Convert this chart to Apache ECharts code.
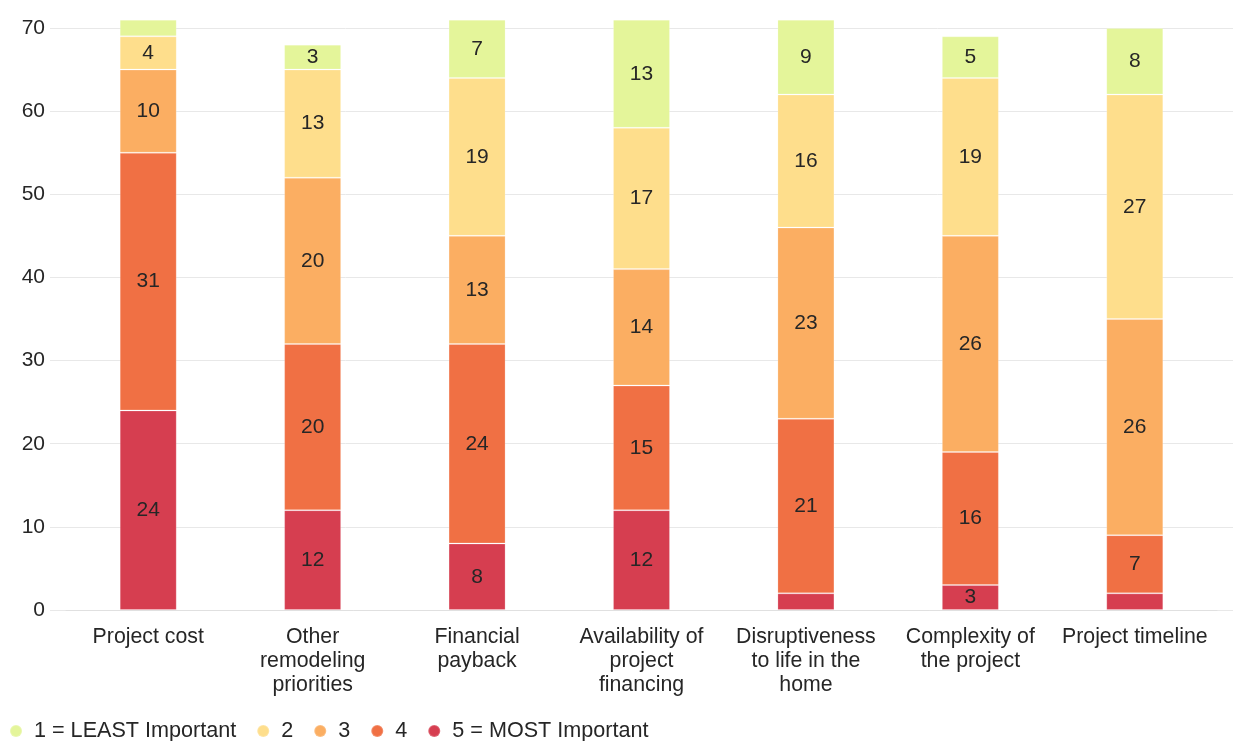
<!DOCTYPE html>
<html>
<head>
<meta charset="utf-8">
<script src="https://cdn.jsdelivr.net/npm/echarts@6/dist/echarts.min.js"></script>
<style>
  html, body { margin: 0; padding: 0; background: #ffffff; }
  #chart { width: 1233px; height: 741px; }
</style>
</head>
<body>
<div id="chart"></div>
<script>
// Survey question categories (axis labels wrap as shown)
const categories = [
  'Project cost',
  'Other\nremodeling\npriorities',
  'Financial\npayback',
  'Availability of\nproject\nfinancing',
  'Disruptiveness\nto life in the\nhome',
  'Complexity of\nthe project',
  'Project timeline'
];

// Responses per importance rating, stacked bottom (5) to top (1)
const mostImportant  = [24, 12, 8, 12, 2, 3, 2];      // 5 = MOST Important
const rating4        = [31, 20, 24, 15, 21, 16, 7];   // 4
const rating3        = [10, 20, 13, 14, 23, 26, 26];  // 3
const rating2        = [4, 13, 19, 17, 16, 19, 27];   // 2
const leastImportant = [2, 3, 7, 13, 9, 5, 8];        // 1 = LEAST Important

const yTicks = [0, 10, 20, 30, 40, 50, 60, 70];

const FONT = 'Liberation Sans, Arial, Helvetica, sans-serif';
const TEXT = '#262626';

const seriesDefs = [
  { name: '5 = MOST Important', data: mostImportant,  color: '#d63e50' },
  { name: '4',                  data: rating4,        color: '#f07044' },
  { name: '3',                  data: rating3,        color: '#fbae62' },
  { name: '2',                  data: rating2,        color: '#fede8c' },
  { name: '1 = LEAST Important', data: leastImportant, color: '#e4f59a' }
];

const chart = echarts.init(document.getElementById('chart'), null, { renderer: 'canvas' });

const series = seriesDefs.map(s => ({
  name: s.name,
  type: 'bar',
  stack: 'total',
  xAxisIndex: 1,
  yAxisIndex: 1,
  barWidth: 57,
  clip: false,
  data: s.data,
  itemStyle: { color: s.color, borderColor: 'rgba(255,255,255,0.2)', borderWidth: 1 },
  label: {
    show: true,
    position: 'inside',
    color: TEXT,
    fontFamily: FONT,
    fontSize: 21,
    formatter: p => (p.value >= 3 ? String(p.value) : '')
  },
  emphasis: { disabled: true }
}));

chart.setOption({
  animation: false,
  textStyle: { fontFamily: FONT },
  legend: {
    data: ['1 = LEAST Important', '2', '3', '4', '5 = MOST Important'],
    left: 4,
    top: 715,
    icon: 'circle',
    itemWidth: 12,
    itemHeight: 12,
    itemGap: 20,
    textStyle: { color: TEXT, fontSize: 21.6, fontFamily: FONT, padding: [0, 0, 0, 7] }
  },
  grid: [
    // wide grid: value gridlines and tick labels
    { left: 50, right: 0, top: 28, bottom: 131 },
    // inset grid: the category bars
    { left: 66, right: 16, top: 28, bottom: 131 }
  ],
  xAxis: [
    { type: 'category', gridIndex: 0, data: categories, show: false },
    {
      type: 'category',
      gridIndex: 1,
      data: categories,
      axisLine: { show: true, lineStyle: { color: '#e0e0e0', width: 1 } },
      axisTick: { show: false },
      axisLabel: {
        color: TEXT,
        fontSize: 21.3,
        fontFamily: FONT,
        lineHeight: 24,
        margin: 15,
        interval: 0
      }
    }
  ],
  yAxis: [
    {
      type: 'value',
      gridIndex: 0,
      min: yTicks[0],
      max: yTicks[yTicks.length - 1],
      interval: 10,
      axisLine: { show: false },
      axisTick: { show: false },
      splitLine: { lineStyle: { color: '#e8e8e8', width: 1 } },
      axisLabel: { color: TEXT, fontSize: 21, fontFamily: FONT, margin: 5 }
    },
    {
      type: 'value',
      gridIndex: 1,
      min: yTicks[0],
      max: yTicks[yTicks.length - 1],
      interval: 10,
      show: false
    }
  ],
  series: series
});
</script>
</body>
</html>
